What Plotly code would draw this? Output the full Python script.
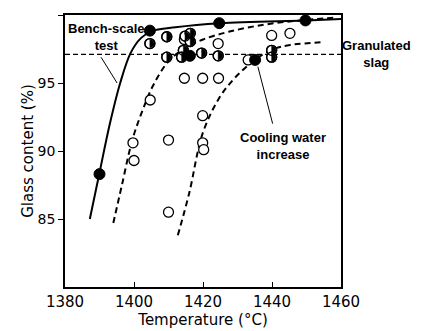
import numpy as np
import plotly.graph_objects as go

# ---- data ----
# curves
solid_x = [1387.2, 1390, 1393, 1396, 1399, 1402, 1405, 1412, 1425, 1450, 1460]
solid_y = [85.0, 88.4, 92.0, 95.0, 97.2, 98.3, 98.8, 99.1, 99.4, 99.6, 99.7]

mid_x = [1394, 1396.5, 1399.5, 1402.5, 1405.5, 1410, 1415, 1420, 1428, 1438, 1448, 1458]
mid_y = [84.7, 87.5, 90.8, 93.0, 94.8, 96.6, 97.6, 98.2, 98.8, 99.3, 99.6, 99.8]

right_x = [1412.7, 1416, 1419.9, 1424.7, 1428.6, 1432.2, 1435.5, 1440.5, 1445.3, 1455]
right_y = [83.8, 86.9, 91.3, 93.9, 95.2, 96.1, 96.8, 97.5, 97.8, 98.0]

granulated_level = 97.1

# points
filled_x = [1390, 1404.6, 1424.7, 1449.7, 1435.1, 1416.2]
filled_y = [88.3, 98.85, 99.4, 99.6, 96.7, 97.0]

open_x = [1399.7, 1400, 1404.7, 1410, 1410, 1414.6, 1419.9, 1424.5, 1419.9, 1419.9, 1420.2,
          1414.6, 1424.4, 1433.1, 1439.9, 1445.2]
open_y = [90.6, 89.3, 93.75, 90.8, 85.5, 95.35, 95.35, 95.35, 92.6, 90.6, 90.1,
          98.2, 97.9, 96.7, 98.5, 98.65]

half_x = [1404.6, 1409.5, 1414.8, 1416.3, 1416.3, 1409.5, 1414.3, 1413.8, 1419.6, 1424.4, 1439.9, 1439.9]
half_y = [97.9, 98.4, 98.45, 98.65, 98.05, 96.9, 97.4, 96.9, 97.2, 97.0, 97.4, 96.9]

x_ticks = [1380, 1400, 1420, 1440, 1460]
y_ticks = [85, 90, 95, 100]

X_RANGE = [1380, 1460]
Y_RANGE = [80, 100]

FONT = "DejaVu Sans"

W, H = 415, 323
ML, MR, MT, MB = 57, 82, 7, 44
plot_w = W - ML - MR
plot_h = H - MT - MB

# black right halves of the half-filled markers, built around each data point
r_px = 4.3
rx = r_px * (X_RANGE[1] - X_RANGE[0]) / plot_w
ry = r_px * (Y_RANGE[1] - Y_RANGE[0]) / plot_h
ang = np.linspace(-np.pi / 2, np.pi / 2, 13)
hx, hy = [], []
for cx, cy in zip(half_x, half_y):
    hx += list(cx + rx * np.cos(ang)) + [cx, None]
    hy += list(cy + ry * np.sin(ang)) + [cy - ry, None]

fig = go.Figure()

# granulated slag horizontal dashed line
fig.add_trace(go.Scatter(x=[x_ticks[0], x_ticks[-1]], y=[granulated_level, granulated_level],
                         mode="lines", line=dict(color="black", width=1.2, dash="5px,3px"),
                         hoverinfo="skip", showlegend=False))

fig.add_trace(go.Scatter(x=solid_x, y=solid_y, mode="lines",
                         line=dict(color="black", width=2, shape="spline"), showlegend=False))
fig.add_trace(go.Scatter(x=mid_x, y=mid_y, mode="lines",
                         line=dict(color="black", width=2, shape="spline", dash="6px,4px"), showlegend=False))
fig.add_trace(go.Scatter(x=right_x, y=right_y, mode="lines",
                         line=dict(color="black", width=2, shape="spline", dash="6px,4px"), showlegend=False))

fig.add_trace(go.Scatter(x=open_x, y=open_y, mode="markers",
                         marker=dict(symbol="circle", size=10, color="white",
                                     line=dict(color="black", width=1.3)), showlegend=False))
fig.add_trace(go.Scatter(x=half_x, y=half_y, mode="markers",
                         marker=dict(symbol="circle", size=10, color="white",
                                     line=dict(color="black", width=1.3)), showlegend=False))
fig.add_trace(go.Scatter(x=hx, y=hy, mode="lines", fill="toself", fillcolor="black",
                         line=dict(color="black", width=0.5), hoverinfo="skip", showlegend=False))
fig.add_trace(go.Scatter(x=half_x, y=half_y, mode="markers",
                         marker=dict(symbol="circle", size=10, color="rgba(0,0,0,0)",
                                     line=dict(color="black", width=1.3)), showlegend=False))
fig.add_trace(go.Scatter(x=filled_x, y=filled_y, mode="markers",
                         marker=dict(symbol="circle", size=11, color="black",
                                     line=dict(color="black", width=1)), showlegend=False))

ann_font = dict(family="Liberation Sans", size=13, color="black")
fig.add_annotation(x=1391.9, y=98.4, xref="x", yref="y", text="<b>Bench-scale<br>test</b>",
                   showarrow=False, font=ann_font, align="center", xanchor="center", yanchor="middle")
fig.add_annotation(x=1395.1, y=95.0, ax=1390.2, ay=97.0, axref="x", ayref="y",
                   text="", showarrow=True, arrowhead=0, arrowwidth=1, arrowcolor="black")
fig.add_annotation(x=1.127, xref="paper", y=granulated_level, yref="y",
                   text="<b>Granulated<br>slag</b>", showarrow=False, font=ann_font, align="center",
                   xanchor="center", yanchor="middle")
fig.add_annotation(x=1443.2, y=90.4, xref="x", yref="y", text="<b>Cooling water<br>increase</b>",
                   showarrow=False, font=ann_font, align="center", xanchor="center", yanchor="middle")
fig.add_annotation(x=1435.9, y=96.2, ax=1440.3, ay=91.9, axref="x", ayref="y",
                   text="", showarrow=True, arrowhead=0, arrowwidth=1, arrowcolor="black")

# the page body has an 8px margin, so the figure is shrunk by that amount
fig.update_layout(
    width=W, height=H,
    margin=dict(l=ML, r=MR, t=MT, b=MB, autoexpand=False),
    paper_bgcolor="white", plot_bgcolor="white",
    font=dict(family=FONT, color="black"),
    xaxis=dict(range=X_RANGE, tickvals=x_ticks, ticks="inside", ticklen=5,
               tickcolor="black", showline=True, linecolor="black", linewidth=1.5,
               mirror=True, showgrid=False, zeroline=False, automargin=False,
               tickfont=dict(family=FONT, size=15),
               title=dict(text="Temperature (°C)", font=dict(family=FONT, size=15), standoff=2)),
    yaxis=dict(range=Y_RANGE, tickvals=y_ticks, ticks="outside", ticklen=5,
               tickcolor="black", showline=True, linecolor="black", linewidth=1.5,
               mirror=True, showgrid=False, zeroline=False, automargin=False,
               tickfont=dict(family=FONT, size=14),
               title=dict(text="Glass content (%)", font=dict(family=FONT, size=15), standoff=0)),
)

fig.write_html("out.html")
